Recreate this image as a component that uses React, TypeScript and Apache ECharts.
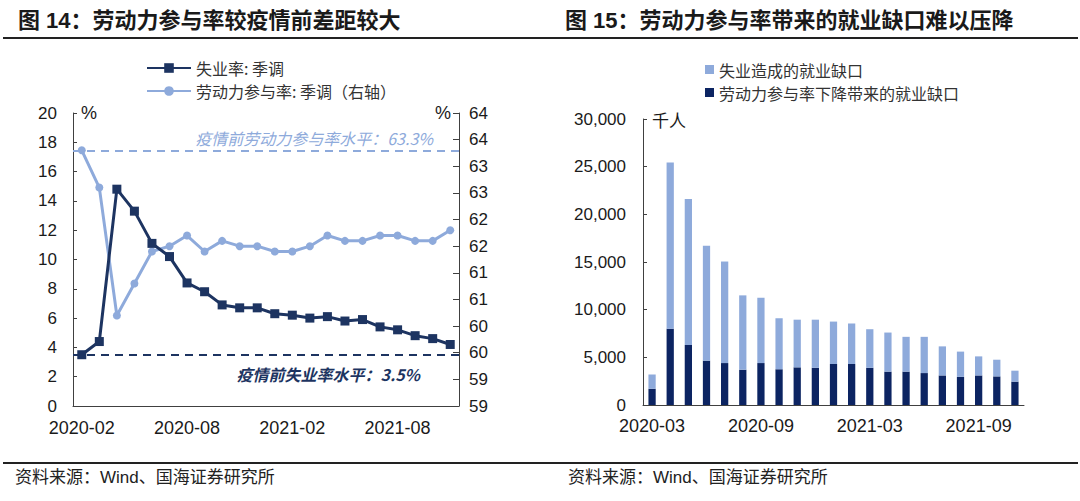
import React, { useEffect, useRef } from "react";
import * as echarts from "echarts";

// ---- Left chart (图14) data ----
const monthsL = [
  "2020-02", "2020-03", "2020-04", "2020-05", "2020-06", "2020-07", "2020-08", "2020-09",
  "2020-10", "2020-11", "2020-12", "2021-01", "2021-02", "2021-03", "2021-04", "2021-05",
  "2021-06", "2021-07", "2021-08", "2021-09", "2021-10", "2021-11",
];
const unemployment = [3.5, 4.4, 14.8, 13.3, 11.1, 10.2, 8.4, 7.8, 6.9, 6.7, 6.7, 6.3, 6.2, 6.0, 6.1, 5.8, 5.9, 5.4, 5.2, 4.8, 4.6, 4.2];
const participation = [63.3, 62.6, 60.2, 60.8, 61.4, 61.5, 61.7, 61.4, 61.6, 61.5, 61.5, 61.4, 61.4, 61.5, 61.7, 61.6, 61.6, 61.7, 61.7, 61.6, 61.6, 61.8];
const PRE_UNEMP = 3.5;
const PRE_LFPR = 63.3;

// ---- Right chart (图15) data ----
const monthsR = [
  "2020-03", "2020-04", "2020-05", "2020-06", "2020-07", "2020-08", "2020-09", "2020-10",
  "2020-11", "2020-12", "2021-01", "2021-02", "2021-03", "2021-04", "2021-05", "2021-06",
  "2021-07", "2021-08", "2021-09", "2021-10", "2021-11",
];
const gapFromLfpr = [1700, 8000, 6300, 4650, 4400, 3700, 4400, 3750, 3950, 3900, 4300, 4300, 3900, 3500, 3500, 3350, 3100, 2950, 3100, 3000, 2450];
const gapFromUnemp = [1500, 17450, 15300, 12050, 10650, 7800, 6850, 5350, 5000, 5050, 4450, 4250, 4050, 4100, 3650, 3800, 3050, 2650, 2000, 1750, 1150];

const DARK = "#1d3461";
const LIGHT = "#8eaadb";
const BAR_DARK = "#0c2462";
const AXIS = "#404040";
const TXT = "#1a1a1a";
const NUM_FONT = "Liberation Sans, Arial, Noto Sans CJK SC, sans-serif";
const CJK_FONT = "Noto Sans CJK SC, sans-serif";

export default function App() {
  const ref = useRef<HTMLDivElement>(null);
  useEffect(() => {
    if (!ref.current) return;
    const chart = echarts.init(ref.current, undefined, { renderer: "svg" });
    const option: any = {
      animation: false,
      backgroundColor: "#ffffff",
      textStyle: { fontFamily: NUM_FONT },
      graphic: [
        { type: "text", left: 18, top: 9, style: { text: "图 14：劳动力参与率较疫情前差距较大", font: `bold 22px ${NUM_FONT}`, fill: TXT } },
        { type: "text", left: 565, top: 9, style: { text: "图 15：劳动力参与率带来的就业缺口难以压降", font: `bold 22px ${NUM_FONT}`, fill: TXT } },
        { type: "line", shape: { x1: 3, y1: 38, x2: 1078, y2: 38 }, style: { stroke: "#222", lineWidth: 2 } },
        { type: "line", shape: { x1: 3, y1: 463, x2: 1078, y2: 463 }, style: { stroke: "#222", lineWidth: 2 } },
        { type: "text", left: 15, top: 469, style: { text: "资料来源：Wind、国海证券研究所", font: `17px ${NUM_FONT}`, fill: "#222" } },
        { type: "text", left: 568, top: 469, style: { text: "资料来源：Wind、国海证券研究所", font: `17px ${NUM_FONT}`, fill: "#222" } },
      ],
      legend: [
        {
          left: 141, top: 55, orient: "vertical",
          itemWidth: 44, itemHeight: 12, itemGap: 7,
          data: ["失业率: 季调", "劳动力参与率: 季调（右轴）"],
          textStyle: { fontSize: 16, color: "#333", fontFamily: CJK_FONT },
        },
        {
          left: 700, top: 56, orient: "vertical",
          icon: "rect", itemWidth: 9, itemHeight: 9, itemGap: 6,
          data: ["失业造成的就业缺口", "劳动力参与率下降带来的就业缺口"],
          textStyle: { fontSize: 16, color: "#333", fontFamily: CJK_FONT, lineHeight: 17 },
        },
      ],
      grid: [
        { left: 73, top: 113, width: 386, height: 293 },
        { left: 643, top: 119, width: 381, height: 286 },
      ],
      xAxis: [
        {
          type: "category", gridIndex: 0, data: monthsL, boundaryGap: true,
          axisLine: { lineStyle: { color: AXIS, width: 1 } },
          axisTick: { interval: 5, inside: true, length: 5, lineStyle: { color: AXIS } },
          axisLabel: { interval: 5, margin: 13, fontSize: 18, color: TXT },
        },
        {
          type: "category", gridIndex: 1, data: monthsR, boundaryGap: true,
          axisLine: { lineStyle: { color: AXIS, width: 1 } },
          axisTick: { interval: 5, inside: true, length: 5, lineStyle: { color: AXIS } },
          axisLabel: { interval: 5, margin: 12, fontSize: 18, color: TXT },
        },
      ],
      yAxis: [
        {
          type: "value", gridIndex: 0, min: 0, max: 20, interval: 2,
          name: "%", nameLocation: "end", nameGap: 0,
          nameTextStyle: { align: "left", verticalAlign: "middle", fontSize: 18, color: TXT, padding: [0, 0, 0, 8] },
          axisLine: { show: true, lineStyle: { color: AXIS } },
          axisTick: { show: true, inside: true, length: 4, lineStyle: { color: AXIS } },
          splitLine: { show: false },
          axisLabel: { margin: 16, fontSize: 17, color: TXT },
        },
        {
          type: "value", gridIndex: 0, position: "right", min: 58.5, max: 64, interval: 0.5,
          name: "%", nameLocation: "end", nameGap: 0,
          nameTextStyle: { align: "right", verticalAlign: "middle", fontSize: 18, color: TXT, padding: [0, 8, 8, 0] },
          axisLine: { show: true, lineStyle: { color: AXIS } },
          axisTick: { show: true, inside: true, length: 6, lineStyle: { color: AXIS } },
          splitLine: { show: false },
          axisLabel: { margin: 10, fontSize: 17, color: TXT, formatter: (v: number) => String(Math.round(v)) },
        },
        {
          type: "value", gridIndex: 1, min: 0, max: 30000, interval: 5000,
          name: "千人", nameLocation: "end", nameGap: 0,
          nameTextStyle: { align: "left", verticalAlign: "middle", fontSize: 17, color: TXT, fontFamily: CJK_FONT, padding: [0, 0, 0, 9] },
          axisLine: { show: true, lineStyle: { color: AXIS } },
          axisTick: { show: true, inside: true, length: 4, lineStyle: { color: AXIS } },
          splitLine: { show: false },
          axisLabel: { margin: 17, fontSize: 17, color: TXT, formatter: (v: number) => v.toLocaleString("en-US") },
        },
      ],
      series: [
        {
          name: "劳动力参与率: 季调（右轴）", type: "line", xAxisIndex: 0, yAxisIndex: 1,
          data: participation, symbol: "circle", symbolSize: 8,
          lineStyle: { color: LIGHT, width: 3 }, itemStyle: { color: LIGHT },
          markLine: {
            silent: true, symbol: "none",
            lineStyle: { color: LIGHT, type: [8, 6], width: 2 },
            label: {
              position: "insideEndTop", distance: [26, 4],
              formatter: `疫情前劳动力参与率水平：${PRE_LFPR}%`,
              color: LIGHT, fontSize: 16, fontStyle: "italic", fontFamily: CJK_FONT,
            },
            data: [{ yAxis: PRE_LFPR }],
          },
        },
        {
          name: "失业率: 季调", type: "line", xAxisIndex: 0, yAxisIndex: 0,
          data: unemployment, symbol: "rect", symbolSize: 9,
          lineStyle: { color: DARK, width: 3 }, itemStyle: { color: DARK },
          markLine: {
            silent: true, symbol: "none",
            lineStyle: { color: DARK, type: [8, 6], width: 2 },
            label: {
              position: "insideEndBottom", distance: [39, 11],
              formatter: `疫情前失业率水平：${PRE_UNEMP}%`,
              color: DARK, fontSize: 16, fontWeight: "bold", fontStyle: "italic", fontFamily: CJK_FONT,
            },
            data: [{ yAxis: PRE_UNEMP }],
          },
        },
        {
          name: "劳动力参与率下降带来的就业缺口", type: "bar", xAxisIndex: 1, yAxisIndex: 2,
          stack: "gap", data: gapFromLfpr, barWidth: "40%", itemStyle: { color: BAR_DARK },
        },
        {
          name: "失业造成的就业缺口", type: "bar", xAxisIndex: 1, yAxisIndex: 2,
          stack: "gap", data: gapFromUnemp, barWidth: "40%", itemStyle: { color: LIGHT },
        },
      ],
    };
    chart.setOption(option);
    return () => chart.dispose();
  }, []);
  return (
    <div
      ref={ref}
      style={{ position: "absolute", left: 0, top: 0, width: 1080, height: 501, background: "#fff" }}
    />
  );
}
